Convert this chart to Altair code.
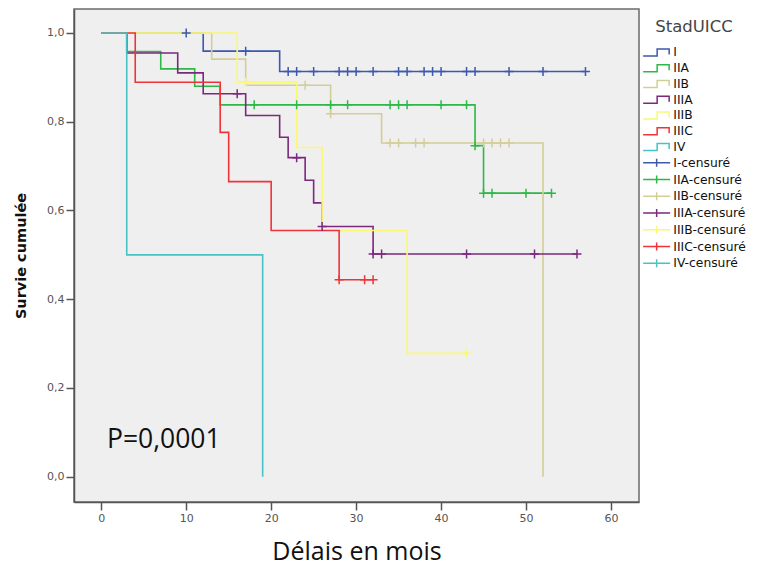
import altair as alt
import pandas as pd

groups = ["I", "IIA", "IIB", "IIIA", "IIIB", "IIIC", "IV"]
colors = ["#3E58AC", "#2EB848", "#D3CE97", "#7C287D", "#FBF873", "#EF3338", "#48C2C5"]

# Kaplan-Meier steps: event times (months) and survival after each event
I_event_t = [12, 21]
I_event_s = [0.959, 0.913]
I_censor_t = [10, 17, 22, 23, 25, 28, 29, 30, 32, 35, 36, 38, 39, 40, 43, 44, 48, 52, 57]
I_end = 57

IIA_event_t = [3, 7, 11, 14, 44, 45]
IIA_event_s = [0.958, 0.919, 0.880, 0.838, 0.746, 0.639]
IIA_censor_t = [18, 23, 27, 29, 34, 35, 36, 40, 43, 44, 45, 46, 50, 53]
IIA_end = 53

IIB_event_t = [13, 17, 27, 33, 52]
IIB_event_s = [0.941, 0.882, 0.818, 0.752, 0.0]
IIB_censor_t = [24, 27, 34, 35, 37, 38, 45, 46, 47, 48]
IIB_end = 52

IIIA_event_t = [3, 9, 12, 17, 21, 22, 24, 25, 26, 32]
IIIA_event_s = [0.955, 0.910, 0.863, 0.814, 0.765, 0.719, 0.668, 0.617, 0.564, 0.502]
IIIA_censor_t = [16, 23, 26, 32, 33, 43, 51, 56]
IIIA_end = 56

IIIB_event_t = [16, 23, 26, 36]
IIIB_event_s = [0.889, 0.742, 0.555, 0.278]
IIIB_censor_t = [17, 43]
IIIB_end = 43

IIIC_event_t = [4, 14, 15, 20, 28]
IIIC_event_s = [0.889, 0.776, 0.665, 0.555, 0.444]
IIIC_censor_t = [28, 31, 32]
IIIC_end = 32

IV_event_t = [3, 19]
IV_event_s = [0.500, 0.0]
IV_censor_t = []
IV_end = 19

x_ticks = [0, 10, 20, 30, 40, 50, 60]
y_ticks = [0.0, 0.2, 0.4, 0.6, 0.8, 1.0]
p_label = "P=0,0001"

series = {
    "I": (I_event_t, I_event_s, I_censor_t, I_end),
    "IIA": (IIA_event_t, IIA_event_s, IIA_censor_t, IIA_end),
    "IIB": (IIB_event_t, IIB_event_s, IIB_censor_t, IIB_end),
    "IIIA": (IIIA_event_t, IIIA_event_s, IIIA_censor_t, IIIA_end),
    "IIIB": (IIIB_event_t, IIIB_event_s, IIIB_censor_t, IIIB_end),
    "IIIC": (IIIC_event_t, IIIC_event_s, IIIC_censor_t, IIIC_end),
    "IV": (IV_event_t, IV_event_s, IV_censor_t, IV_end),
}

line_rows = []
cens_rows = []
for g in groups:
    et, es, ct, end = series[g]
    pts = [(0, 1.0)] + list(zip(et, es))
    if end > et[-1]:
        pts.append((end, es[-1]))
    for i, (t, s) in enumerate(pts):
        line_rows.append({"label": g, "t": t, "s": s, "idx": i})
    for t in ct:
        s = 1.0
        for tt, ss in zip(et, es):
            if tt <= t:
                s = ss
        cens_rows.append({"label": g + "-censuré", "t": t, "s": s})

line_df = pd.DataFrame(line_rows)
cens_df = pd.DataFrame(cens_rows)
ann_df = pd.DataFrame({"t": [0.67], "s": [0.083], "txt": [p_label]})

all_labels = groups + [g + "-censuré" for g in groups]
color_scale = alt.Scale(domain=all_labels, range=colors + colors)
step_path = "M-1,0.7 L1.8,0.7 L1.8,-0.7 L4.2,-0.7 L4.2,0.4"
cross_leg = "M-1,0 L4.4,0 M1.7,-0.8 L1.7,0.8"
shape_scale = alt.Scale(domain=all_labels, range=[step_path] * 7 + [cross_leg] * 7)

x_scale = alt.Scale(domain=[-3.21, 63.3], nice=False, zero=False)
y_scale = alt.Scale(domain=[-0.057, 1.054], nice=False, zero=False)

xenc = alt.X("t:Q", scale=x_scale,
             axis=alt.Axis(values=x_ticks, title="Délais en mois", titleFont="Open Sans",
                           titleFontSize=25, titleFontWeight="normal", titleColor="#111111",
                           titlePadding=16))
yenc = alt.Y("s:Q", scale=y_scale,
             axis=alt.Axis(values=y_ticks, title="Survie cumulée", titleFont="DejaVu Sans",
                           titleFontSize=14.5, titleFontWeight="bold", titleColor="#111111",
                           titlePadding=18,
                           labelExpr="replace(format(datum.value, '.1f'), '.', ',')"))

lines = alt.Chart(line_df).mark_line(interpolate="step-after", strokeWidth=1.6).encode(
    x=xenc, y=yenc,
    color=alt.Color("label:N", scale=color_scale, legend=None),
    detail="label:N",
    order="idx:Q",
)

censors = alt.Chart(cens_df).mark_point(
    shape="M-1,0 L1,0 M0,-1 L0,1", size=81, filled=False, strokeWidth=1.5, opacity=1
).encode(
    x=xenc, y=yenc,
    color=alt.Color("label:N", scale=color_scale, legend=None),
)

leg = alt.Legend(title="StadUICC", orient="none", legendX=568, legendY=9.6,
                 titleAnchor="middle", titleFont="DejaVu Sans", titleFontSize=16.5,
                 titleFontWeight="normal", titleColor="#444444", titlePadding=11.2,
                 labelFont="DejaVu Sans", labelFontSize=12.3, labelColor="#111111",
                 labelOffset=19, symbolSize=100, symbolStrokeWidth=1.5,
                 rowPadding=1.76, padding=0)

legend_layer = alt.Chart(cens_df).transform_filter("false").mark_point(
    filled=False, strokeWidth=1.5, opacity=1
).encode(
    x=xenc, y=yenc,
    color=alt.Color("label:N", scale=color_scale, legend=leg),
    shape=alt.Shape("label:N", scale=shape_scale, legend=leg),
)

ann = alt.Chart(ann_df).mark_text(align="left", baseline="middle", font="Open Sans",
                                  fontSize=26.5, color="#111111").encode(
    x=alt.X("t:Q", scale=x_scale), y=alt.Y("s:Q", scale=y_scale), text="txt:N")

chart = alt.layer(legend_layer, lines, censors, ann).resolve_legend(
    color="independent", shape="independent"
).properties(
    width=565, height=493,
    padding={"left": 5, "top": 1, "right": 0, "bottom": 0},
).configure_view(
    fill="#EFEFEF", stroke="#6B6B6B", strokeWidth=1.5
).configure_axis(
    grid=False, domainColor="#555555", domainWidth=1.5, tickColor="#555555",
    tickSize=8, tickWidth=1.5, labelFont="DejaVu Sans", labelFontSize=11,
    labelColor="#555555", labelPadding=2
)

chart.save("out.html", embed_options={"renderer": "svg", "actions": False})
